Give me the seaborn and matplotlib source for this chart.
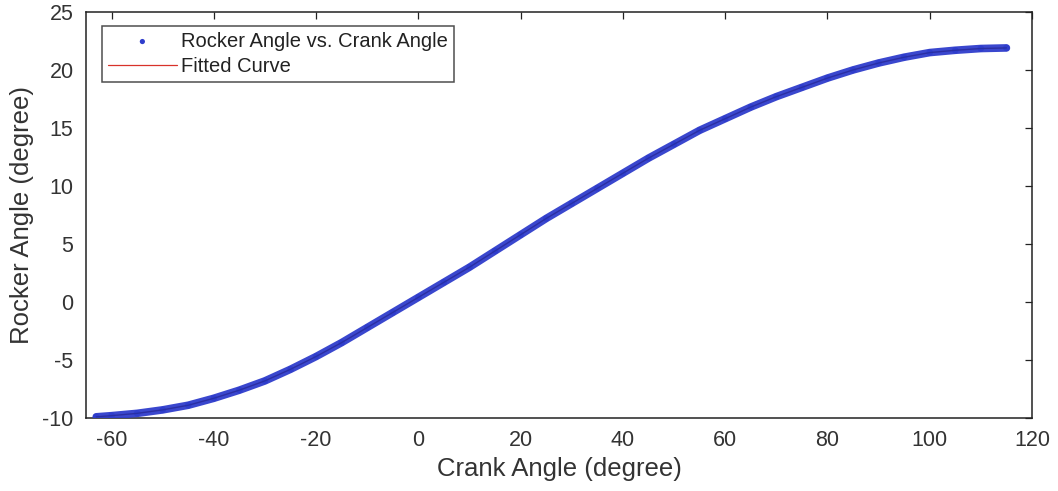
import matplotlib
matplotlib.use("Agg")
import matplotlib.pyplot as plt
import seaborn as sns
import pandas as pd

# Crank angle (deg) and measured rocker angle (deg)
crank_angle = [-63, -60, -55, -50, -45, -40, -35, -30, -25, -20, -15, -10, -5, 0,
               5, 10, 15, 20, 25, 30, 35, 40, 45, 50, 55, 60, 65, 70, 75, 80,
               85, 90, 95, 100, 105, 110, 115]
rocker_angle = [-9.9, -9.8, -9.6, -9.3, -8.9, -8.3, -7.6, -6.8, -5.8, -4.7, -3.5,
                -2.2, -0.9, 0.4, 1.7, 3.0, 4.4, 5.8, 7.2, 8.5, 9.8, 11.1, 12.4,
                13.6, 14.8, 15.8, 16.8, 17.7, 18.5, 19.3, 20.0, 20.6, 21.1, 21.5,
                21.7, 21.85, 21.9]

x_ticks = [-60, -40, -20, 0, 20, 40, 60, 80, 100, 120]
y_ticks = [-10, -5, 0, 5, 10, 15, 20, 25]

df = pd.DataFrame({"crank": crank_angle, "rocker": rocker_angle})

sns.set_theme(style="white")
plt.rcParams["font.family"] = ["Liberation Sans", "DejaVu Sans"]
plt.rcParams["axes.unicode_minus"] = False

fig = plt.figure(figsize=(10.58, 4.91), dpi=100)
ax = fig.add_axes([0.0813, 0.1487, 0.8941, 0.8269])

blue = "#2f3dcc"
red = "#d8322a"

# fitted curve underneath the samples
sns.lineplot(data=df, x="crank", y="rocker", ax=ax, color=red, linewidth=0.9,
             zorder=2, label="Fitted Curve", sort=True)
# dense sample band
sns.lineplot(data=df, x="crank", y="rocker", ax=ax, color=blue, linewidth=5.5,
             alpha=0.95, zorder=3, legend=False, sort=True)
sns.scatterplot(data=df, x="crank", y="rocker", ax=ax, color=blue, s=22,
                edgecolor="none", zorder=4, label="Rocker Angle vs. Crank Angle")
# darker speckle along the band centre
sns.lineplot(data=df, x="crank", y="rocker", ax=ax, color="#1c1f7a", linewidth=1.0,
             alpha=0.45, zorder=5, legend=False, sort=True)

ax.set_xlim(-65, 120)
ax.set_ylim(-10, 25)
ax.set_xticks(x_ticks)
ax.set_yticks(y_ticks)
ax.tick_params(axis="both", which="both", direction="in", length=5, width=0.9,
               top=True, right=True, labelsize=15.5, colors="#222222",
               labelcolor="#333333", pad=9)
for s in ax.spines.values():
    s.set_visible(True)
    s.set_color("#222222")
    s.set_linewidth(1.1)

ax.set_xlabel("Crank Angle (degree)", fontsize=18.5, color="#333333", labelpad=4)
ax.set_ylabel("Rocker Angle (degree)", fontsize=18.5, color="#333333", labelpad=6)

handles, labels = ax.get_legend_handles_labels()
order = [labels.index("Rocker Angle vs. Crank Angle"), labels.index("Fitted Curve")]
leg = ax.legend([handles[i] for i in order], [labels[i] for i in order],
                loc="upper left", bbox_to_anchor=(0.017, 0.966), fontsize=14.5,
                frameon=True, fancybox=False, edgecolor="#222222",
                handlelength=3.4, handletextpad=0.2, borderpad=0.3,
                labelspacing=0.3, markerscale=0.8, borderaxespad=0)
leg.get_frame().set_linewidth(1.1)
for t in leg.get_texts():
    t.set_color("#222222")

fig.savefig("out.png", dpi=100)
